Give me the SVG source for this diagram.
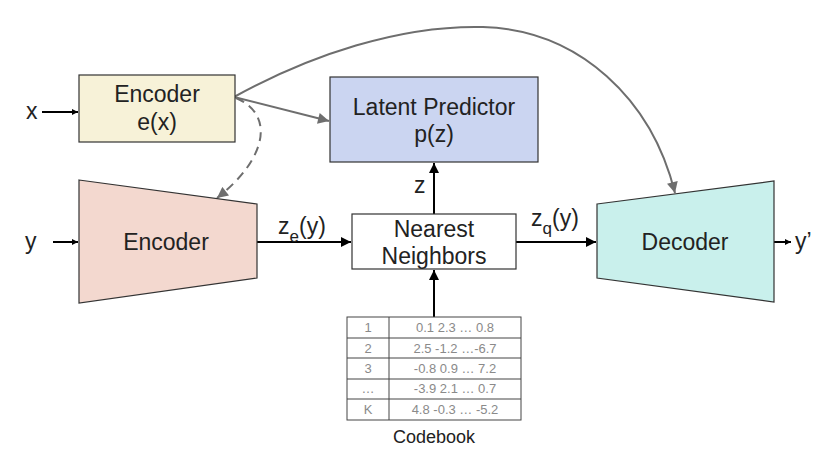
<svg xmlns="http://www.w3.org/2000/svg" width="839" height="461" viewBox="0 0 839 461">
<style>
text{font-family:"Liberation Sans",Arial,Helvetica,sans-serif;fill:#222}
.big{font-size:23px}
.lbl{font-size:23px}
.sub{font-size:17px}
.cb{font-size:13px;fill:#8a8a8a}
.box{stroke:#333;stroke-width:1.2}
.blk{stroke:#000;stroke-width:2;fill:none}
.gry{stroke:#6e6e6e;stroke-width:2;fill:none}
.tbl{fill:#fff;stroke:#444;stroke-width:1}
</style>
<defs>
<marker id="ab" viewBox="0 0 10 10" refX="10" refY="5" markerWidth="6" markerHeight="6" markerUnits="userSpaceOnUse" orient="auto"><path d="M0,0L10,5L0,10z" fill="#000"/></marker>
<marker id="abm" viewBox="0 0 10 10" refX="10" refY="5" markerWidth="10" markerHeight="10" markerUnits="userSpaceOnUse" orient="auto"><path d="M0,0L10,5L0,10z" fill="#000"/></marker>
<marker id="ag" viewBox="0 0 10 10" refX="10" refY="5" markerWidth="13" markerHeight="11" markerUnits="userSpaceOnUse" orient="auto"><path d="M0,0L10,5L0,10z" fill="#6e6e6e"/></marker>
</defs>

<g id="connectors">
<path class="gry" d="M234,97 C310,55 400,25 483,27 C580,30 652,100 675,193" marker-end="url(#ag)"/>
<path class="gry" d="M234,97 L329,121" marker-end="url(#ag)"/>
<path class="gry" d="M236,98 C276,115 266,160 217,198" stroke-dasharray="9,6" marker-end="url(#ag)"/>
<path class="blk" d="M42,112 L78,112" stroke-width="1.5" marker-end="url(#ab)"/>
<path class="blk" d="M53,242 L78,242" stroke-width="1.5" marker-end="url(#ab)"/>
<path class="blk" d="M257,242 L351,242" marker-end="url(#abm)"/>
<path class="blk" d="M516,242 L596,242" marker-end="url(#abm)"/>
<path class="blk" d="M434,214 L434,163" marker-end="url(#abm)"/>
<path class="blk" d="M434,317 L434,270" marker-end="url(#abm)"/>
<path class="blk" d="M774,242 L791,242" stroke-width="1.5" marker-end="url(#ab)"/>
<text class="lbl" x="26" y="119">x</text>
<text class="lbl" x="25" y="249">y</text>
<text class="lbl" x="795" y="249">y’</text>
<text class="lbl" x="414" y="193">z</text>
<text class="lbl" x="278" y="234">z<tspan class="sub" dy="8">e</tspan><tspan dy="-8">(y)</tspan></text>
<text class="lbl" x="531" y="226">z<tspan class="sub" dy="8">q</tspan><tspan dy="-8">(y)</tspan></text>
</g>

<g id="encoder-x">
<rect class="box" x="79" y="75" width="156" height="67" fill="#f7f2d8"/>
<text class="big" x="157" y="102" text-anchor="middle">Encoder</text>
<text class="big" x="157" y="130" text-anchor="middle">e(x)</text>
</g>

<g id="latent-predictor">
<rect class="box" x="330" y="77" width="208" height="85" fill="#cbd5f1"/>
<text class="big" x="434" y="115" text-anchor="middle">Latent Predictor</text>
<text class="big" x="434" y="142" text-anchor="middle">p(z)</text>
</g>

<g id="encoder-y">
<path class="box" d="M79,180 L257,204 L257,278 L79,303 Z" fill="#f3d8cf"/>
<text class="big" x="166" y="250" text-anchor="middle">Encoder</text>
</g>

<g id="nearest-neighbors">
<rect class="box" x="352" y="214" width="164" height="55" fill="#fff"/>
<text class="big" x="434" y="237" text-anchor="middle">Nearest</text>
<text class="big" x="434" y="264" text-anchor="middle">Neighbors</text>
</g>

<g id="decoder">
<path class="box" d="M597,204 L774,181 L774,302 L597,278 Z" fill="#c9f0ec"/>
<text class="big" x="685" y="250" text-anchor="middle">Decoder</text>
</g>

<g id="codebook">
<rect class="tbl" x="347" y="317" width="174" height="103"/>
<path d="M389,317V420M347,338H521M347,358H521M347,379H521M347,399H521" stroke="#444" stroke-width="1" fill="none"/>
<text class="cb" x="368" y="332" text-anchor="middle">1</text>
<text class="cb" x="368" y="353" text-anchor="middle">2</text>
<text class="cb" x="368" y="373" text-anchor="middle">3</text>
<text class="cb" x="368" y="393" text-anchor="middle">…</text>
<text class="cb" x="368" y="414" text-anchor="middle">K</text>
<text class="cb" x="455" y="332" text-anchor="middle">0.1 2.3 … 0.8</text>
<text class="cb" x="455" y="353" text-anchor="middle">2.5 -1.2 …-6.7</text>
<text class="cb" x="455" y="373" text-anchor="middle">-0.8 0.9 … 7.2</text>
<text class="cb" x="455" y="393" text-anchor="middle">-3.9 2.1 … 0.7</text>
<text class="cb" x="455" y="414" text-anchor="middle">4.8 -0.3 … -5.2</text>
<text x="434" y="443" text-anchor="middle" font-size="18">Codebook</text>
</g>
</svg>
